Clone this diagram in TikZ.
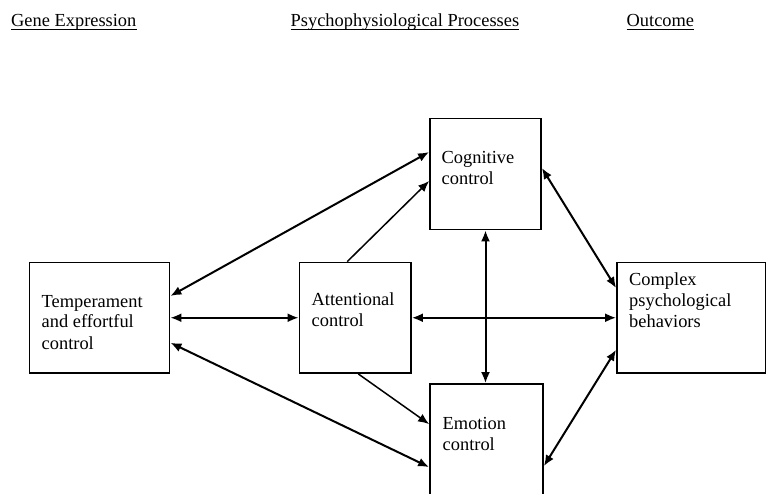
\documentclass[tikz,border=0pt]{standalone}
\usepackage{fontspec}
\setmainfont{Liberation Serif}
\usepackage{tikz}
\usetikzlibrary{positioning, arrows.meta}

\tikzset{
  box/.style={draw, line width=1.8pt, inner sep=0pt},
  txt/.style={align=left, inner sep=0pt, anchor=base west},
  head/.style={inner sep=0pt, anchor=base west},
  link/.style={line width=2pt, {Latex[length=11pt,width=9pt]}-{Latex[length=11pt,width=9pt]}},
  onelink/.style={line width=1.5pt, -{Latex[length=11pt,width=9pt]}}
}

\begin{document}
\begin{tikzpicture}[x=1pt, y=-1pt, font=\fontsize{18.4}{21}\selectfont]
     \clip (0,0) rectangle (766,494);
     \fill[white] (0,0) rectangle (766,494);
     % headings
     \node[head] (gene) at (11,26.5) {Gene Expression};
     \node[head] (psych) at (290.5,26.5) {Psychophysiological Processes};
     \node[head] (outc) at (626.5,26.5) {Outcome};
     \foreach \h in {gene, psych, outc}
       \draw[line width=0.9pt] ([yshift=-3pt]\h.base west) -- ([yshift=-3pt]\h.base east);
     % boxes
     \node[box, minimum width=140pt, minimum height=110.5pt] (temp) at (99.5,317.75) {};
     \node[box, minimum width=111.5pt, minimum height=110.5pt] (attn) at (355.25,317.75) {};
     \node[box, minimum width=111pt, minimum height=111pt] (cog) at (485.5,174) {};
     \node[box, minimum width=113pt, minimum height=130pt] (emo) at (486.5,449) {};
     \node[box, minimum width=148.5pt, minimum height=110.5pt] (cplx) at (691.25,317.75) {};
     % box texts (anchored at the last line)
     \node[txt] (tempT) at (41.5,349) {Temperament\\and effortful\\control};
     \node[txt] (attnT) at (311.5,327) {Attentional\\control};
     \node[txt] (cogT) at (441.5,185) {Cognitive\\control};
     \node[txt] (emoT) at (442.5,450) {Emotion\\control};
     \node[txt] (cplxT) at (629,328) {Complex\\psychological\\behaviors};
     % links
     \draw[link] ([yshift=21.75pt]temp.east) -- ([yshift=22pt]cog.west);
     \draw[link] (temp.east) -- (attn.west);
     \draw[link] ([yshift=-25pt]temp.east) -- ([yshift=-84pt]emo.north west);
     \draw[onelink] ([xshift=-8pt]attn.north) -- ([yshift=-7pt]cog.west);
     \draw[onelink] ([xshift=3pt]attn.south) -- ([yshift=-41pt]emo.north west);
     \draw[link] (attn.east) -- (cplx.west);
     \draw[link] (cog.south) -- (cog.south |- emo.north);
     \draw[link] ([yshift=6pt]cog.east) -- ([yshift=29.75pt]cplx.west);
     \draw[link] ([yshift=-32pt]cplx.west) -- ([yshift=-83pt]emo.north east);
\end{tikzpicture}
\end{document}
